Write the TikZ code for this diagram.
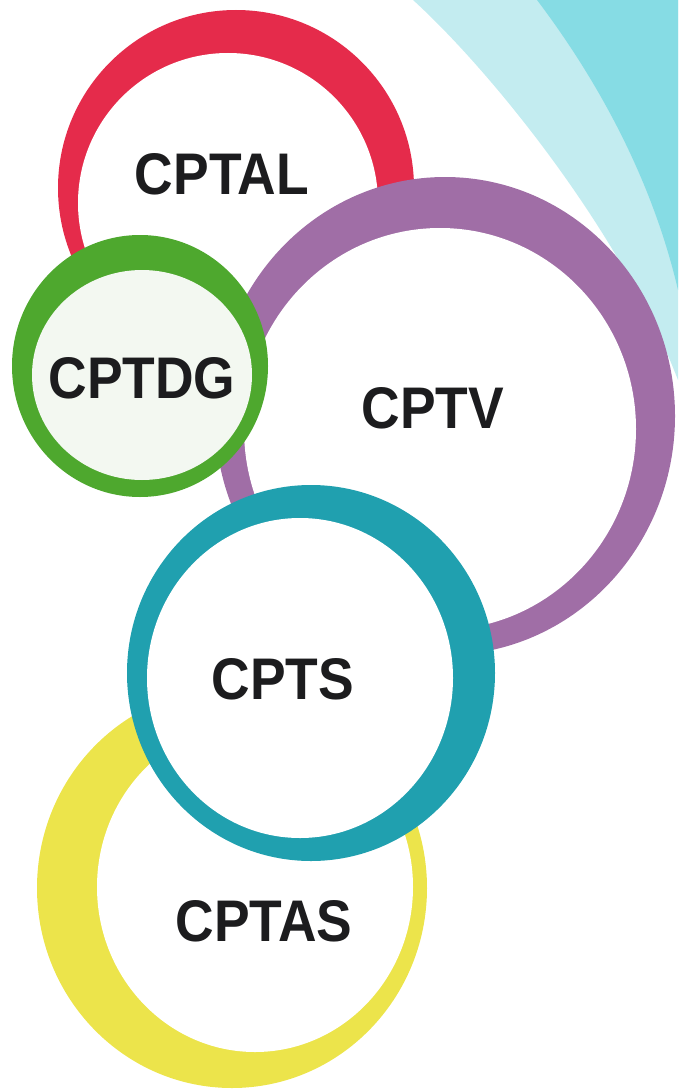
\documentclass[tikz,border=0pt]{standalone}
\usepackage{fontspec}
\setmainfont{Liberation Sans}
\definecolor{ringred}{HTML}{E52B4B}
\definecolor{ringpurple}{HTML}{A06EA6}
\definecolor{ringgreen}{HTML}{4EA82E}
\definecolor{ringteal}{HTML}{20A0AF}
\definecolor{ringyellow}{HTML}{ECE44B}
\definecolor{lightcyan}{HTML}{C3ECF0}
\definecolor{darkcyan}{HTML}{86DCE4}
\definecolor{greenwhite}{HTML}{F3F8F1}
\definecolor{labelblack}{HTML}{1C1C1E}
\tikzset{
  lbl/.style={font=\bfseries\fontsize{58.7}{62}\selectfont,text=labelblack,
    inner sep=0pt,xscale=0.91}
}

\begin{document}
\begin{tikzpicture}[x=1pt,y=-1pt]
  \useasboundingbox (0,0) rectangle (678,1089);
  % swooshes in the corner
  \fill[lightcyan] (413,0) .. controls (490,70) and (620,230) .. (678,380) -- (678,0) -- cycle;
  \fill[darkcyan] (537,0) .. controls (590,70) and (650,170) .. (678,290) -- (678,0) -- cycle;
  % red ring
  \fill[ringred] (236,188) ellipse (178pt and 178pt);
  \fill[white] (228,203) ellipse (150pt and 150pt);
  % purple ring
  \fill[ringpurple] (445,416) ellipse (230pt and 239pt);
  \fill[white] (440,429) ellipse (196pt and 201pt);
  % green ring
  \fill[ringgreen] (140,366) ellipse (128pt and 131pt);
  \fill[greenwhite] (142,375) ellipse (110pt and 105pt);
  % yellow ring
  \fill[ringyellow] (232,888) ellipse (195pt and 200pt);
  \fill[white] (255,887) ellipse (158pt and 165pt);
  % teal ring
  \fill[ringteal] (311,673) ellipse (184pt and 188pt);
  \fill[white] (300,678) ellipse (153pt and 160pt);
  % labels
  \node[lbl] (cptal) at (222,174) {CPTAL};
  \node[lbl] (cptdg) at (142,378) {CPTDG};
  \node[lbl] (cptv) at (433,408) {CPTV};
  \node[lbl] (cpts) at (283,679) {CPTS};
  \node[lbl] (cptas) at (264,921) {CPTAS};
\end{tikzpicture}
\end{document}
